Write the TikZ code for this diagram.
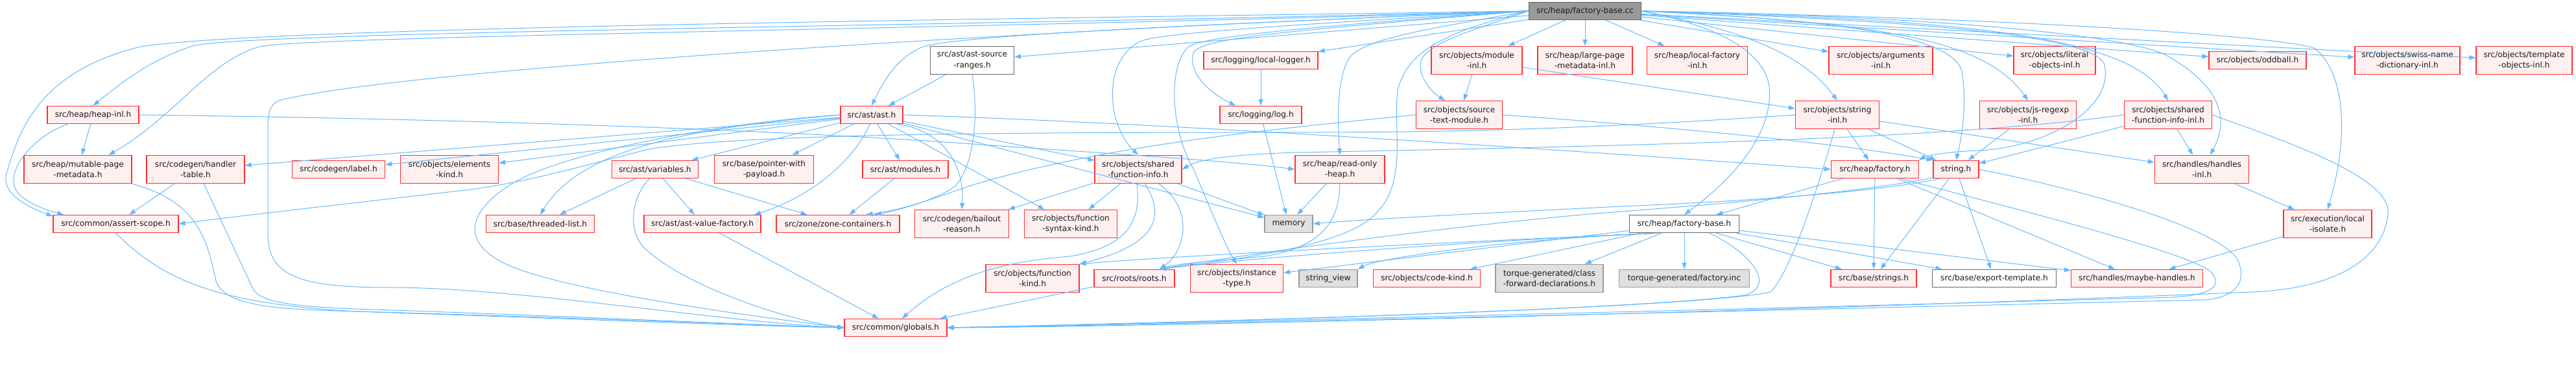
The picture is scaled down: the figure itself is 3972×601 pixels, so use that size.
\documentclass[tikz,border=0pt]{standalone}
\usepackage{fontspec}
\setmainfont{DejaVu Sans}
\usetikzlibrary{arrows.meta}
\definecolor{edgec}{HTML}{63B8FF}
\definecolor{redb}{HTML}{FF3030}
\definecolor{redf}{HTML}{FFF0F0}
\definecolor{grayf}{HTML}{E0E0E0}
\definecolor{grayb}{HTML}{999999}
\definecolor{darkb}{HTML}{666666}
\tikzset{
  nd/.style={rectangle, line width=1.3pt, inner xsep=10pt, inner ysep=2pt, minimum height=27pt, align=center, font=\fontsize{12.2}{16.5}\selectfont, text={rgb,255:red,25;green,25;blue,25}},
  rn/.style={nd, draw=redb, fill=redf},
  gn/.style={nd, draw=grayb, fill=grayf},
  wn/.style={nd, draw=darkb, fill=white},
  rootn/.style={nd, draw=darkb, fill=grayb},
  tl/.style={minimum height=43pt},
  e/.style={draw=edgec, line width=1pt, -{Triangle[length=10pt,width=7pt]}}
}
\begin{document}
\begin{tikzpicture}[x=1pt,y=-1pt]
\useasboundingbox (0,0) rectangle (3972,601);
% nodes
\node[rootn, minimum width=173] (cc) at (2444,17) {src/heap/factory-base.cc};
\node[rn, minimum width=141] (heapinl) at (143.5,177) {src/heap/heap-inl.h};
\node[rn, tl, minimum width=166] (mutpage) at (120,261) {src/heap/mutable-page\\-metadata.h};
\node[rn, tl, minimum width=151] (handler) at (301.5,261) {src/codegen/handler\\-table.h};
\node[rn, minimum width=193] (assert) at (178.5,345) {src/common/assert-scope.h};
\node[rn, minimum width=158] (globals) at (1381,505) {src/common/globals.h};
\node[rn, minimum width=143] (label) at (522,261) {src/codegen/label.h};
\node[rn, tl, minimum width=151] (elements) at (693,261) {src/objects/elements\\-kind.h};
\node[rn, minimum width=167] (threaded) at (833,345) {src/base/threaded-list.h};
\node[rn, minimum width=133] (variables) at (1010,261) {src/ast/variables.h};
\node[rn, minimum width=180] (valuefac) at (1083,345) {src/ast/ast-value-factory.h};
\node[rn, minimum width=96] (ast) at (1344,177) {src/ast/ast.h};
\node[wn, tl, minimum width=129] (srcranges) at (1499,93) {src/ast/ast-source\\-ranges.h};
\node[rn, tl, minimum width=153] (pointer) at (1178,261) {src/base/pointer-with\\-payload.h};
\node[rn, minimum width=132] (modules) at (1396,261) {src/ast/modules.h};
\node[rn, minimum width=190] (zone) at (1292,345) {src/zone/zone-containers.h};
\node[rn, tl, minimum width=145] (bailout) at (1483,345) {src/codegen/bailout\\-reason.h};
\node[rn, tl, minimum width=134] (sfi) at (1755,261) {src/objects/shared\\-function-info.h};
\node[rn, tl, minimum width=143] (fsyntax) at (1651,345) {src/objects/function\\-syntax-kind.h};
\node[rn, tl, minimum width=144] (fkind) at (1592,429) {src/objects/function\\-kind.h};
\node[rn, minimum width=124] (roots) at (1749,429) {src/roots/roots.h};
\node[rn, tl, minimum width=143] (itype) at (1907,429) {src/objects/instance\\-type.h};
\node[rn, minimum width=176] (locallogger) at (1944,93) {src/logging/local-logger.h};
\node[rn, minimum width=126] (log) at (1944,177) {src/logging/log.h};
\node[gn, minimum width=74] (memory) at (1987,345) {memory};
\node[rn, tl, minimum width=138] (rohp) at (2066,261) {src/heap/read-only\\-heap.h};
\node[rn, tl, minimum width=140] (moduleinl) at (2277,93) {src/objects/module\\-inl.h};
\node[rn, tl, minimum width=133] (stm) at (2250,177) {src/objects/source\\-text-module.h};
\node[rn, tl, minimum width=146] (largepage) at (2444,93) {src/heap/large-page\\-metadata-inl.h};
\node[rn, tl, minimum width=155] (localfac) at (2617,93) {src/heap/local-factory\\-inl.h};
\node[wn, minimum width=169] (fbh) at (2597,345) {src/heap/factory-base.h};
\node[gn, minimum width=90] (strview) at (2048,429) {string\_view};
\node[rn, minimum width=165] (codekind) at (2200,429) {src/objects/code-kind.h};
\node[gn, tl, minimum width=166] (classfwd) at (2389,429) {torque-generated/class\\-forward-declarations.h};
\node[gn, minimum width=201] (factinc) at (2597,429) {torque-generated/factory.inc};
\node[rn, tl, minimum width=160] (args) at (2900,93) {src/objects/arguments\\-inl.h};
\node[rn, tl, minimum width=129] (stringinl) at (2833,177) {src/objects/string\\-inl.h};
\node[rn, minimum width=135] (factoryh) at (2891,261) {src/heap/factory.h};
\node[rn, minimum width=70] (stringh) at (3016,261) {string.h};
\node[rn, minimum width=132] (strings) at (2889,429) {src/base/strings.h};
\node[wn, minimum width=191] (exporttpl) at (3075,429) {src/base/export-template.h};
\node[rn, tl, minimum width=126] (literal) at (3168,93) {src/objects/literal\\-objects-inl.h};
\node[rn, minimum width=150] (oddball) at (3481,93) {src/objects/oddball.h};
\node[rn, tl, minimum width=149] (jsregexp) at (3127,177) {src/objects/js-regexp\\-inl.h};
\node[rn, tl, minimum width=135] (sfiinl) at (3343,177) {src/objects/shared\\-function-info-inl.h};
\node[rn, tl, minimum width=145] (handlesinl) at (3395,261) {src/handles/handles\\-inl.h};
\node[rn, minimum width=203] (maybe) at (3295,429) {src/handles/maybe-handles.h};
\node[rn, tl, minimum width=162] (swiss) at (3712,93) {src/objects/swiss-name\\-dictionary-inl.h};
\node[rn, tl, minimum width=148] (template) at (3892,93) {src/objects/template\\-objects-inl.h};
\node[rn, tl, minimum width=136] (localiso) at (3589,345) {src/execution/local\\-isolate.h};

% edges from the root
\draw[e] (cc.west) .. controls (1500,40) and (420,48) .. (300,70) .. controls (235,90) and (190,125) .. (heapinl.north);
\draw[e] (cc.west) .. controls (1500,45) and (480,55) .. (400,72) .. controls (320,95) and (270,180) .. (mutpage.25);
\draw[e] (cc.west) .. controls (1500,30) and (400,42) .. (217,72) .. controls (60,110) and (30,200) .. (10,267) .. controls (0,300) and (50,322) .. (assert.173);
\draw[e] (cc.west) .. controls (1500,50) and (600,110) .. (430,155) .. controls (415,162) and (413,175) .. (413,200) -- (413,360) .. controls (413,425) and (460,443) .. (600,443) .. controls (800,443) and (1100,495) .. (globals.west);
\draw[e] (cc) -- (srcranges);
\draw[e] (cc.west) .. controls (1800,40) and (1480,55) .. (1423,72) .. controls (1380,90) and (1360,130) .. (ast.north);
\draw[e] (cc.west) .. controls (1950,40) and (1790,52) .. (1760,63) .. controls (1700,90) and (1705,190) .. (sfi.north);
\draw[e] (cc.west) .. controls (1950,45) and (1850,60) .. (1833,72) .. controls (1800,100) and (1805,200) .. (1840,260) .. controls (1870,330) and (1890,380) .. (itype.north);
\draw[e] (cc.west) .. controls (1950,50) and (1850,60) .. (1840,82) .. controls (1832,110) and (1860,140) .. (log.160);
\draw[e] (cc) -- (locallogger);
\draw[e] (cc.west) .. controls (2200,45) and (2100,60) .. (2080,90) .. controls (2062,120) and (2062,180) .. (rohp.north);
\draw[e] (cc.west) .. controls (2250,45) and (2170,70) .. (2155,140) .. controls (2148,200) and (2170,280) .. (2123,327) .. controls (2080,380) and (1900,400) .. (roots.20);
\draw[e] (cc.west) .. controls (2260,50) and (2190,70) .. (2190,100) .. controls (2190,120) and (2205,140) .. (stm.135);
\draw[e] (cc) -- (moduleinl);
\draw[e] (cc) -- (largepage);
\draw[e] (cc) -- (localfac);
\draw[e] (cc.east) .. controls (2650,40) and (2720,80) .. (2728,133) .. controls (2735,200) and (2680,270) .. (fbh.north);
\draw[e] (cc.east) .. controls (2650,40) and (2770,70) .. (stringinl.north);
\draw[e] (cc) -- (args);
\draw[e] (cc.east) .. controls (2900,30) and (3230,50) .. (3245,100) .. controls (3260,170) and (3150,228) .. (3050,232) .. controls (3000,234) and (2970,240) .. (factoryh.north east);
\draw[e] (cc.east) .. controls (2800,30) and (3010,50) .. (3025,110) .. controls (3032,150) and (3028,200) .. (stringh.north);
\draw[e] (cc) -- (literal);
\draw[e] (cc.east) .. controls (2900,35) and (3060,60) .. (jsregexp.north);
\draw[e] (cc.east) .. controls (3000,30) and (3280,50) .. (sfiinl.north);
\draw[e] (cc.east) .. controls (3000,25) and (3280,55) .. (3340,85) .. controls (3420,130) and (3440,180) .. (handlesinl.60);
\draw[e] (cc) -- (oddball);
\draw[e] (cc) -- (swiss);
\draw[e] (cc) -- (template);
\draw[e] (cc.east) .. controls (3200,30) and (3540,60) .. (3570,75) .. controls (3612,110) and (3625,200) .. (localiso.north);

% heap-inl, metadata, handler, assert
\draw[e] (heapinl) -- (mutpage);
\draw[e] (heapinl.200) .. controls (50,210) and (0,270) .. (30,300) .. controls (50,318) and (80,326) .. (assert.170);
\draw[e] (heapinl.east) .. controls (700,183) and (1200,200) .. (1500,222) .. controls (1700,236) and (1900,248) .. (rohp.west);
\draw[e] (mutpage.south east) .. controls (300,310) and (318,360) .. (333,433) .. controls (345,470) and (420,476) .. (520,479) .. controls (900,490) and (1150,500) .. (globals.west);
\draw[e] (handler) -- (assert);
\draw[e] (handler.-60) -- (390,445) .. controls (400,465) and (450,471) .. (520,475) .. controls (900,488) and (1150,500) .. (globals.west);
\draw[e] (assert.south) .. controls (250,430) and (330,468) .. (550,480) .. controls (900,492) and (1150,502) .. (globals.west);

% ast
\draw[e] (srcranges) -- (ast);
\draw[e] (srcranges.south) .. controls (1508,170) and (1505,250) .. (1473,287) .. controls (1440,310) and (1380,325) .. (zone.14);
\draw[e] (ast) -- (handler);
\draw[e] (ast) -- (label);
\draw[e] (ast) -- (elements);
\draw[e] (ast) -- (variables);
\draw[e] (ast) -- (pointer);
\draw[e] (ast) -- (modules);
\draw[e] (ast.west) .. controls (1100,195) and (900,220) .. (threaded.north);
\draw[e] (ast.-100) .. controls (1320,240) and (1260,300) .. (valuefac.10);
\draw[e] (ast.west) .. controls (1100,190) and (880,235) .. (800,277) .. controls (740,310) and (700,360) .. (767,400) .. controls (830,440) and (1100,480) .. (globals.west);
\draw[e] (ast) -- (sfi);
\draw[e] (ast) -- (memory);
\draw[e] (ast.-20) .. controls (1450,200) and (1488,250) .. (bailout.north);
\draw[e] (ast) -- (fsyntax);
\draw[e] (ast.east) .. controls (1800,190) and (2400,230) .. (factoryh.west);
\draw[e] (variables) -- (threaded);
\draw[e] (variables) -- (valuefac);
\draw[e] (variables) -- (zone);
\draw[e] (variables.-120) .. controls (975,300) and (963,360) .. (1000,388) .. controls (1060,440) and (1200,490) .. (globals.west);
\draw[e] (modules) -- (zone);
\draw[e] (valuefac) -- (globals);

% shared function info
\draw[e] (sfi) -- (bailout);
\draw[e] (sfi) -- (fsyntax);
\draw[e] (sfi.-65) .. controls (1795,330) and (1790,375) .. (fkind.north east);
\draw[e] (sfi.-35) .. controls (1840,320) and (1830,385) .. (roots.20);
\draw[e] (sfi) -- (memory);
\draw[e] (sfi.-95) .. controls (1760,340) and (1740,380) .. (1650,395) .. controls (1560,402) and (1470,420) .. (globals.55);
\draw[e] (roots) -- (globals);
\draw[e] (locallogger) -- (log);
\draw[e] (log) -- (memory);
\draw[e] (rohp) -- (memory);
\draw[e] (rohp.south) .. controls (2065,340) and (2040,380) .. (1950,395) .. controls (1880,402) and (1820,405) .. (roots.20);

% modules, source text module
\draw[e] (moduleinl) -- (stm);
\draw[e] (moduleinl) -- (stringinl);
\draw[e] (stm.west) .. controls (1950,200) and (1700,225) .. (1500,285) .. controls (1440,305) and (1400,322) .. (zone.18);
\draw[e] (stm.east) .. controls (2500,190) and (2800,215) .. (stringh.north west);

% factory-base.h
\draw[e] (fbh) -- (factinc);
\draw[e] (fbh) -- (strings);
\draw[e] (fbh) -- (exporttpl);
\draw[e] (fbh) -- (maybe);
\draw[e] (fbh.-20) .. controls (2700,390) and (2740,440) .. (2690,455) .. controls (2500,480) and (1700,500) .. (globals.east);
\draw[e] (fbh.200) .. controls (2300,370) and (1950,395) .. (roots.20);
\draw[e] (fbh.200) .. controls (2200,375) and (1800,395) .. (fkind.north east);
\draw[e] (fbh) -- (itype);
\draw[e] (fbh.200) .. controls (2300,370) and (2120,400) .. (strview.north east);
\draw[e] (fbh) -- (codekind);
\draw[e] (fbh) -- (classfwd);

% factory.h, string.h
\draw[e] (factoryh) -- (fbh);
\draw[e] (factoryh) -- (strings);
\draw[e] (factoryh) -- (maybe);
\draw[e] (factoryh.-20) .. controls (3100,320) and (3380,390) .. (3410,420) .. controls (3430,445) and (3400,455) .. (3350,458) .. controls (2500,482) and (1700,500) .. (globals.east);
\draw[e] (stringh) -- (strings);
\draw[e] (stringh) -- (exporttpl);
\draw[e] (stringh.east) .. controls (3200,290) and (3420,350) .. (3450,400) .. controls (3465,432) and (3450,458) .. (3400,462) .. controls (2500,484) and (1700,502) .. (globals.east);
\draw[e] (stringh.-150) .. controls (2900,295) and (2700,310) .. (2500,318) .. controls (2300,328) and (2100,338) .. (memory.east);
\draw[e] (stringh.-160) .. controls (2850,300) and (2600,318) .. (2450,330) .. controls (2200,352) and (1900,395) .. (roots.20);

% string-inl
\draw[e] (stringinl) -- (factoryh);
\draw[e] (stringinl) -- (stringh);
\draw[e] (stringinl) -- (handlesinl);
\draw[e] (stringinl.-100) .. controls (2800,300) and (2760,420) .. (2730,450) .. controls (2600,478) and (1700,500) .. (globals.east);
\draw[e] (stringinl.west) .. controls (2500,195) and (2300,204) .. (2000,204) .. controls (1600,204) and (1150,205) .. (1000,230) .. controls (900,255) and (800,285) .. (700,295) .. controls (500,318) and (350,335) .. (assert.east);

% right part
\draw[e] (jsregexp) -- (stringh);
\draw[e] (sfiinl) -- (stringh);
\draw[e] (sfiinl) -- (handlesinl);
\draw[e] (sfiinl.west) .. controls (3000,215) and (2500,225) .. (2000,235) .. controls (1900,238) and (1850,245) .. (sfi.east);
\draw[e] (sfiinl.east) .. controls (3500,210) and (3690,270) .. (3682,330) .. controls (3675,400) and (3600,445) .. (3472,450) .. controls (2600,486) and (1700,504) .. (globals.east);
\draw[e] (handlesinl) -- (localiso);
\draw[e] (localiso) -- (maybe);
\end{tikzpicture}
\end{document}
